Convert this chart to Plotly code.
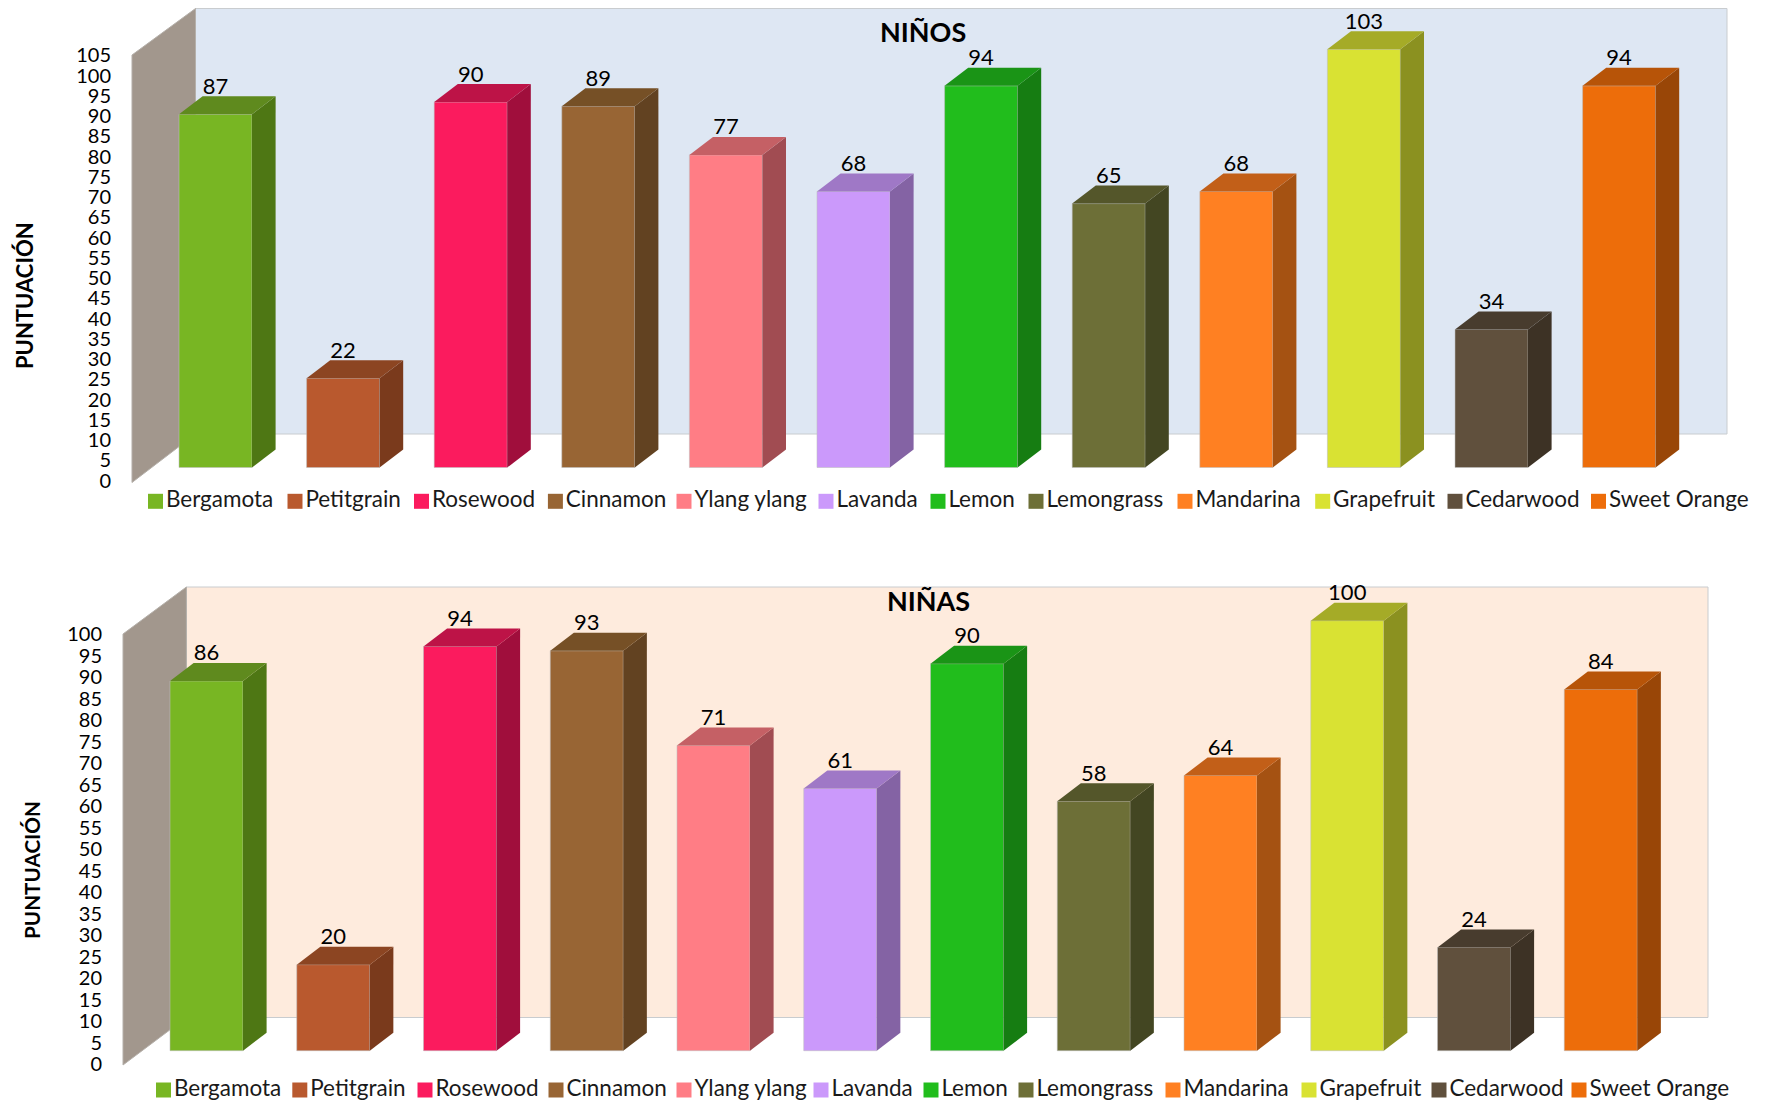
import plotly.graph_objects as go

# Essential oil scores
categories = ["Bergamota", "Petitgrain", "Rosewood", "Cinnamon", "Ylang ylang", "Lavanda",
              "Lemon", "Lemongrass", "Mandarina", "Grapefruit", "Cedarwood", "Sweet Orange"]
ninos_values = [87, 22, 90, 89, 77, 68, 94, 65, 68, 103, 34, 94]
ninas_values = [86, 20, 94, 93, 71, 61, 90, 58, 64, 100, 24, 84]

front_colors = ["#78B623", "#B9592E", "#FB1B5E", "#986534", "#FF7D85", "#CB99FB",
                "#21BD1C", "#6D6F37", "#FF8022", "#D9E233", "#60503D", "#ED6D0A"]
top_colors = ["#5F8A1E", "#8C4522", "#BD1347", "#765026", "#C56065", "#9F78C6",
              "#1A9416", "#54562A", "#C25F18", "#A5AB27", "#483C2E", "#B75408"]
side_colors = ["#4E7714", "#7A3A1C", "#A00E3C", "#624221", "#A14C52", "#8463A4",
               "#167D12", "#434622", "#A55212", "#8B9120", "#3D3225", "#994607"]

W, H = 1767, 1106
FONT = "Lato"
BAR_W_PX = 73.0
DEPTH_X_PX, DEPTH_Y_PX = 23.6, 18.0
LABEL_DROP_PX = 3.0

panels = [
    dict(title="NIÑOS", values=ninos_values, back="#DEE7F3", tick_max=105,
         left=132, right=1727, top=8.5, bottom=482.5,
         wall_back_x=195.5, wall_front_top=55, wall_back_bottom=434,
         center0=215.5, pitch=127.6, base=467.5, unit=4.06,
         tick0=480.5, tick_unit=4.05, title_xy=(923, 32), ytitle_xy=(24, 296), ytitle_size=22,
         legend_y=501.3,
         legend_x=[148.5, 288, 414.5, 548.4, 677, 819, 931, 1029, 1178, 1315.7, 1448, 1591.5]),
    dict(title="NIÑAS", values=ninas_values, back="#FEEBDD", tick_max=100,
         left=123, right=1708, top=587, bottom=1065,
         wall_back_x=186.4, wall_front_top=634, wall_back_bottom=1017.5,
         center0=206.5, pitch=126.75, base=1050.7, unit=4.30,
         tick0=1064.4, tick_unit=4.30, title_xy=(929, 600), ytitle_xy=(32, 870), ytitle_size=20.7,
         legend_y=1090,
         legend_x=[156.5, 292.8, 418, 549, 677, 814, 924, 1019, 1166, 1302, 1432, 1572]),
]


def fx(px):
    return px / W


def fy(px):
    return 1 - px / H


fig = go.Figure()
shapes, annotations = [], []
layout_axes = {}

for n, p in enumerate(panels):
    suffix = "" if n == 0 else "2"
    xname, yname = f"x{suffix}", f"y{suffix}"
    tick_axis = f"y{n + 3}"
    values = p["values"]
    xs = list(range(len(values)))

    half = BAR_W_PX / p["pitch"] / 2
    dx = DEPTH_X_PX / p["pitch"]
    dy = DEPTH_Y_PX / p["unit"]

    # back and side walls of the 3D box
    shapes.append(dict(type="rect", layer="below", xref="paper", yref="paper",
                       x0=fx(p["wall_back_x"]), x1=fx(p["right"]),
                       y0=fy(p["wall_back_bottom"]), y1=fy(p["top"]),
                       fillcolor=p["back"], line=dict(color="#C9CCCF", width=1)))
    wall = [(p["left"], p["bottom"]), (p["wall_back_x"], p["wall_back_bottom"]),
            (p["wall_back_x"], p["top"]), (p["left"], p["wall_front_top"])]
    path = "M " + " L ".join(f"{fx(a):.5f},{fy(b):.5f}" for a, b in wall) + " Z"
    shapes.append(dict(type="path", layer="below", xref="paper", yref="paper", path=path,
                       fillcolor="#A2978D", line=dict(color="#B5B0AA", width=1)))

    # front faces
    fig.add_trace(go.Bar(x=xs, y=values, width=2 * half, marker=dict(
        color=front_colors, line=dict(color="rgba(190,190,190,0.55)", width=1)),
        customdata=categories, hovertemplate="%{customdata}: %{y}<extra></extra>",
        showlegend=False, xaxis=xname, yaxis=yname))

    # side and top faces, offset from each value by the bar depth
    for i, v in enumerate(values):
        r = i + half
        l = i - half
        fig.add_trace(go.Scatter(x=[r, r + dx, r + dx, r, r], y=[0, dy, v + dy, v, 0],
                                 mode="lines", line=dict(width=0), fill="toself",
                                 fillcolor=side_colors[i], hoverinfo="skip", showlegend=False,
                                 xaxis=xname, yaxis=yname))
        fig.add_trace(go.Scatter(x=[l, r, r + dx, l + dx, l], y=[v, v, v + dy, v + dy, v],
                                 mode="lines", line=dict(width=0), fill="toself",
                                 fillcolor=top_colors[i], hoverinfo="skip", showlegend=False,
                                 xaxis=xname, yaxis=yname))

    # value labels above the top faces
    drop = LABEL_DROP_PX / p["unit"]
    fig.add_trace(go.Scatter(x=xs, y=[v + dy - drop for v in values], mode="text",
                             text=[str(v) for v in values], textposition="top center",
                             textfont=dict(family=FONT, size=22, color="#000000"),
                             hoverinfo="skip", showlegend=False, cliponaxis=False,
                             xaxis=xname, yaxis=yname))

    # carries the tick labels, whose zero sits below the bar floor
    fig.add_trace(go.Scatter(x=[None], y=[None], showlegend=False, hoverinfo="skip",
                             xaxis=xname, yaxis=tick_axis))

    x_range = [(p["left"] - p["center0"]) / p["pitch"], (p["right"] - p["center0"]) / p["pitch"]]
    y_range = [(p["base"] - p["bottom"]) / p["unit"], (p["base"] - p["top"]) / p["unit"]]
    tick_range = [(p["tick0"] - p["bottom"]) / p["tick_unit"], (p["tick0"] - p["top"]) / p["tick_unit"]]
    y_domain = [fy(p["bottom"]), fy(p["top"])]
    x_domain = [fx(p["left"]), fx(p["right"])]

    layout_axes[f"xaxis{suffix}"] = dict(domain=x_domain, range=x_range, visible=False,
                                         anchor=yname, fixedrange=True, automargin=False)
    layout_axes[f"yaxis{suffix}"] = dict(domain=y_domain, range=y_range, visible=False,
                                         anchor=xname, fixedrange=True, automargin=False)
    layout_axes[f"yaxis{n + 3}"] = dict(
        domain=y_domain, range=tick_range, overlaying=yname, anchor=xname, side="left",
        tickmode="array", tickvals=list(range(0, p["tick_max"] + 1, 5)),
        showgrid=False, zeroline=False, showline=False, ticks="", ticklabelstandoff=20,
        tickfont=dict(family=FONT, size=20, color="#000000"), fixedrange=True, automargin=False)

    annotations.append(dict(text=f"<b>{p['title']}</b>", xref="paper", yref="paper",
                            x=fx(p["title_xy"][0]), y=fy(p["title_xy"][1]), showarrow=False,
                            xanchor="center", yanchor="middle",
                            font=dict(family=FONT, size=27, color="#000000")))
    annotations.append(dict(text="<b>PUNTUACIÓN</b>", xref="paper", yref="paper", textangle=-90,
                            x=fx(p["ytitle_xy"][0]), y=fy(p["ytitle_xy"][1]), showarrow=False,
                            xanchor="center", yanchor="middle",
                            font=dict(family=FONT, size=p["ytitle_size"], color="#000000")))

    # legend row: square swatch followed by the oil name
    fig.add_trace(go.Scatter(x=[a + 7 for a in p["legend_x"]], y=[p["legend_y"]] * len(categories),
                             mode="markers+text", text=categories, textposition="middle right",
                             marker=dict(symbol="square", size=15, color=front_colors),
                             textfont=dict(family=FONT, size=22.5, color="#1A1A1A"),
                             hoverinfo="skip", showlegend=False, cliponaxis=False,
                             xaxis="x3", yaxis="y5"))

layout_axes["xaxis3"] = dict(domain=[0, 1], range=[0, W], visible=False, anchor="y5",
                             fixedrange=True, automargin=False)
layout_axes["yaxis5"] = dict(domain=[0, 1], range=[H, 0], visible=False, anchor="x3",
                             fixedrange=True, automargin=False)

fig.update_layout(width=W, height=H, margin=dict(l=0, r=0, t=0, b=0, autoexpand=False),
                  paper_bgcolor="#FFFFFF", plot_bgcolor="rgba(0,0,0,0)",
                  showlegend=False, shapes=shapes, annotations=annotations,
                  font=dict(family=FONT), **layout_axes)

fig.write_html("out.html")
